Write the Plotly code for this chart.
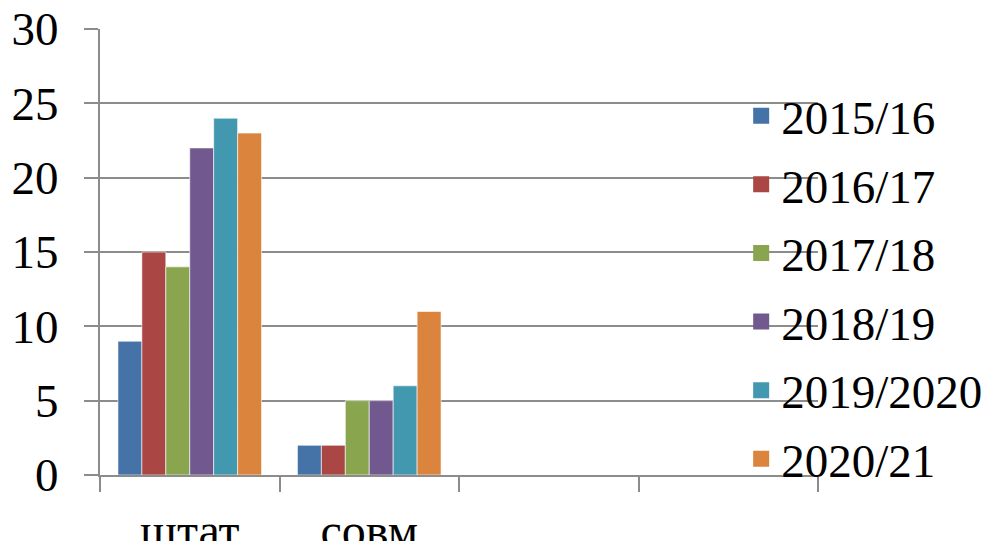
import plotly.graph_objects as go

categories = ["штат", "совм", " ", "  "]
series_names = ["2015/16", "2016/17", "2017/18", "2018/19", "2019/2020", "2020/21"]
values = {
    "2015/16": [9, 2, None, None],
    "2016/17": [15, 2, None, None],
    "2017/18": [14, 5, None, None],
    "2018/19": [22, 5, None, None],
    "2019/2020": [24, 6, None, None],
    "2020/21": [23, 11, None, None],
}
colors = ["#4572A7", "#AA4643", "#89A54E", "#71588F", "#4198AF", "#DB843D"]
y_ticks = [0, 5, 10, 15, 20, 25, 30]

fig = go.Figure()
for name, col in zip(series_names, colors):
    fig.add_trace(go.Bar(
        x=categories, y=values[name], name=name, showlegend=False,
        marker=dict(color=col, line=dict(color="rgba(255,255,255,0.6)", width=1)),
    ))
# legend entries (square swatches)
for name, col in zip(series_names, colors):
    fig.add_trace(go.Scatter(
        x=[None], y=[None], name=name, mode="markers", legendgroup=name,
        marker=dict(symbol="square", size=24, color=col, line=dict(width=0)),
    ))

FONT = "Liberation Serif, Times New Roman, serif"
fig.update_layout(
    width=985, height=533,
    margin=dict(l=92, r=175, t=21, b=66, autoexpand=False),
    paper_bgcolor="white", plot_bgcolor="white",
    barmode="group", bargap=0.2, bargroupgap=0,
    font=dict(family=FONT, color="black"),
    showlegend=True,
    legend=dict(
        x=0.893, y=0.42, xanchor="left", yanchor="middle",
        bgcolor="rgba(0,0,0,0)", font=dict(family=FONT, size=47, color="black"),
        itemwidth=30, tracegroupgap=4.5, traceorder="grouped",
    ),
    xaxis=dict(
        type="category", categoryorder="array", categoryarray=categories,
        showgrid=False, showline=True, linecolor="#8c8c8c", linewidth=2,
        ticks="outside", tickson="boundaries", ticklen=15, tickwidth=2, tickcolor="#8c8c8c",
        tickfont=dict(family=FONT, size=48, color="black"),
        ticklabelstandoff=12, ticklabeloverflow="allow", automargin=False,
    ),
    yaxis=dict(
        range=[0, 30], tickvals=y_ticks, showgrid=True, gridcolor="#8c8c8c", gridwidth=2,
        showline=True, linecolor="#8c8c8c", linewidth=2,
        ticks="outside", ticklen=14, tickwidth=2, tickcolor="#8c8c8c",
        tickfont=dict(family=FONT, size=47, color="black"),
        ticklabelstandoff=16, ticklabeloverflow="allow", zeroline=False, automargin=False,
    ),
)

fig.write_html("out.html")
